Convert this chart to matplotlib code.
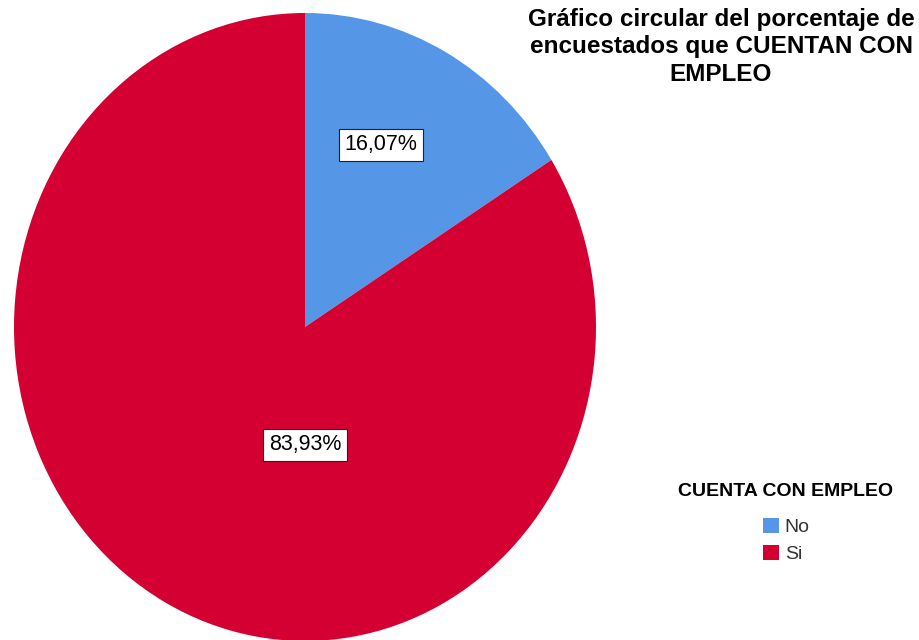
import matplotlib.pyplot as plt

# datos
categorias = ["No", "Si"]
porcentajes = [16.07, 83.93]
colores = ["#5596E6", "#D50032"]
titulo = "Gráfico circular del porcentaje de\nencuestados que CUENTAN CON\nEMPLEO"
titulo_leyenda = "CUENTA CON EMPLEO"

plt.rcParams['font.family'] = ['Liberation Sans', 'DejaVu Sans']

fig = plt.figure(figsize=(9.19, 6.4), dpi=100)
W, H = 919, 640
# caja del grafico en pixeles: x 14..596, y 13..641
ax = fig.add_axes([14 / W, (640 - 641) / H, 582 / W, 628 / H])

wedges, _ = ax.pie(porcentajes, colors=colores, startangle=90, counterclock=False,
                   radius=1, center=(0, 0), frame=False)
ax.set_aspect('auto')
ax.set_xlim(-1, 1)
ax.set_ylim(-1, 1)
ax.axis('off')

# etiquetas de porcentaje (posiciones como en SPSS)
pos_etiquetas = [(0.262, 0.58), (0.0, -0.375)]
for p, (x, y) in zip(porcentajes, pos_etiquetas):
    ax.text(x, y, f"{p:.2f}%".replace(".", ","), ha="center", va="center",
            fontsize=15.5, color="black",
            bbox=dict(boxstyle="square,pad=0.25", fc="white", ec="#222222", lw=0.8))

fig.text(721 / W, 1 - 8 / H, titulo, ha="center", va="top", fontsize=17.5,
         fontweight="bold", linespacing=1.25)

fig.text(786 / W, 1 - 492 / H, titulo_leyenda, ha="center", va="center",
         fontsize=14, fontweight="bold")
leg = fig.legend(wedges, categorias, loc="upper left",
                 bbox_to_anchor=(745 / W, 1 - 500 / H), frameon=False,
                 fontsize=14, handlelength=0.85, handleheight=0.85,
                 handletextpad=0.3, labelspacing=0.45)
for t in leg.get_texts():
    t.set_color("#333333")

fig.savefig("out.png", dpi=100)
